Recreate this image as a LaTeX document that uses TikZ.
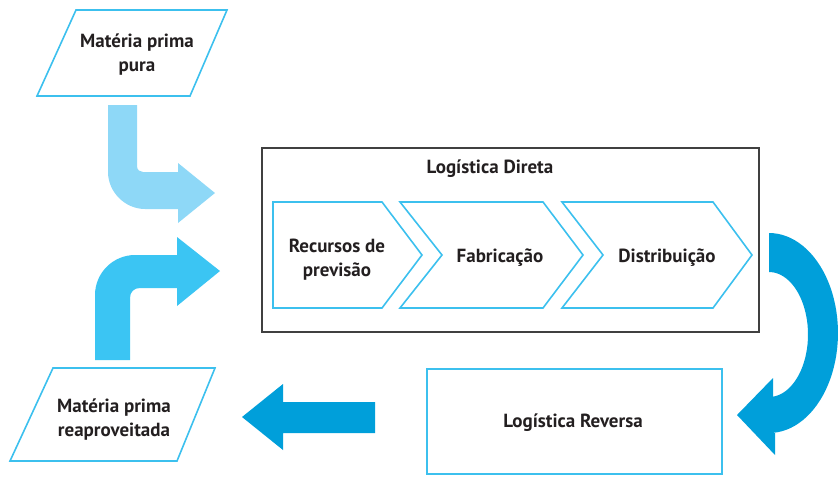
\documentclass[tikz,border=0pt]{standalone}
\usepackage{fontspec}
\setmainfont{PT Sans}
\definecolor{pale}{HTML}{8ED8F7}
\definecolor{mid}{HTML}{3BC5F3}
\definecolor{deep}{HTML}{009FDA}
\definecolor{edge}{HTML}{3CC0EE}
\definecolor{ink}{HTML}{231F20}
\definecolor{frame}{HTML}{404040}
\begin{document}
\begin{tikzpicture}[x=1pt,y=-1pt,
  lbl/.style={font=\fontsize{19}{24}\selectfont\bfseries, text=ink, align=center, inner sep=0pt},
  outline/.style={draw=edge, line width=1.6pt, line join=miter},
  blockarrow/.style={draw=none}]
\useasboundingbox (0,0) rectangle (838,477);

% top parallelogram
\draw[outline] (76,10) -- (227,10) -- (190,96) -- (37,96) -- cycle;
\node[lbl] (pura) at (137,55) {Matéria prima\\pura};

% bottom parallelogram
\draw[outline] (53,368) -- (215,368) -- (177,461) -- (10,461) -- cycle;
\node[lbl] (reap) at (114,420) {Matéria prima\\reaproveitada};

% light arrow (down then right)
\fill[pale] (108,105) -- (108,172) .. controls (108,192) and (125,209) .. (145,209)
  -- (178,209) -- (178,223) -- (215,193) -- (178,163) -- (178,172) -- (143,172)
  .. controls (140,172) and (137,170) .. (137,166) -- (137,105) -- cycle;

% mid arrow (up then right)
\fill[mid] (95,360) -- (95,295) .. controls (95,273) and (113,255) .. (135,255)
  -- (177,255) -- (177,237) -- (220,271) -- (177,306) -- (177,288) -- (140,288)
  .. controls (134,288) and (130,292) .. (130,298) -- (130,360) -- cycle;

% Logistica Direta
\node[draw=frame, line width=1.5pt, minimum width=497pt, minimum height=184pt, inner sep=0pt] (direta) at (510.5,240) {};
\node[lbl] (dtitle) at (490,169) {Logística Direta};

\draw[outline] (273,202) -- (382,202) -- (422,255) -- (382,308) -- (273,308) -- cycle;
\draw[outline] (400,202) -- (543,202) -- (583,255) -- (543,308) -- (400,308) -- (442,255) -- cycle;
\draw[outline] (562,202) -- (713,202) -- (752,255) -- (713,308) -- (562,308) -- (603,255) -- cycle;
\node[lbl] (rec) at (337,260) {Recursos de\\previsão};
\node[lbl] (fab) at (500,258) {Fabricação};
\node[lbl] (dist) at (667,258) {Distribuição};

% Logistica Reversa
\node[draw=edge, line width=1.2pt, minimum width=295pt, minimum height=105pt, inner sep=0pt] (reversa) at (574.5,421.5) {};
\node[lbl] (rtitle) at (573,423) {Logística Reversa};

% left arrow
\fill[deep] (242,417) -- (283,384) -- (283,402) -- (375,402) -- (375,433) -- (283,433) -- (283,450) -- cycle;

% curved arrow
\fill[deep] (769,233) -- plot[domain=90:-90, samples=50] ({769+69*cos(\x)},{333-100*sin(\x)})
  -- (775,433) -- (775,455) -- (737,415) -- (773,378) -- (773,397) -- (769,397)
  -- plot[domain=-90:90, samples=50] ({769+39*cos(\x)},{334.5-62.5*sin(\x)})
  -- cycle;
\end{tikzpicture}
\end{document}
